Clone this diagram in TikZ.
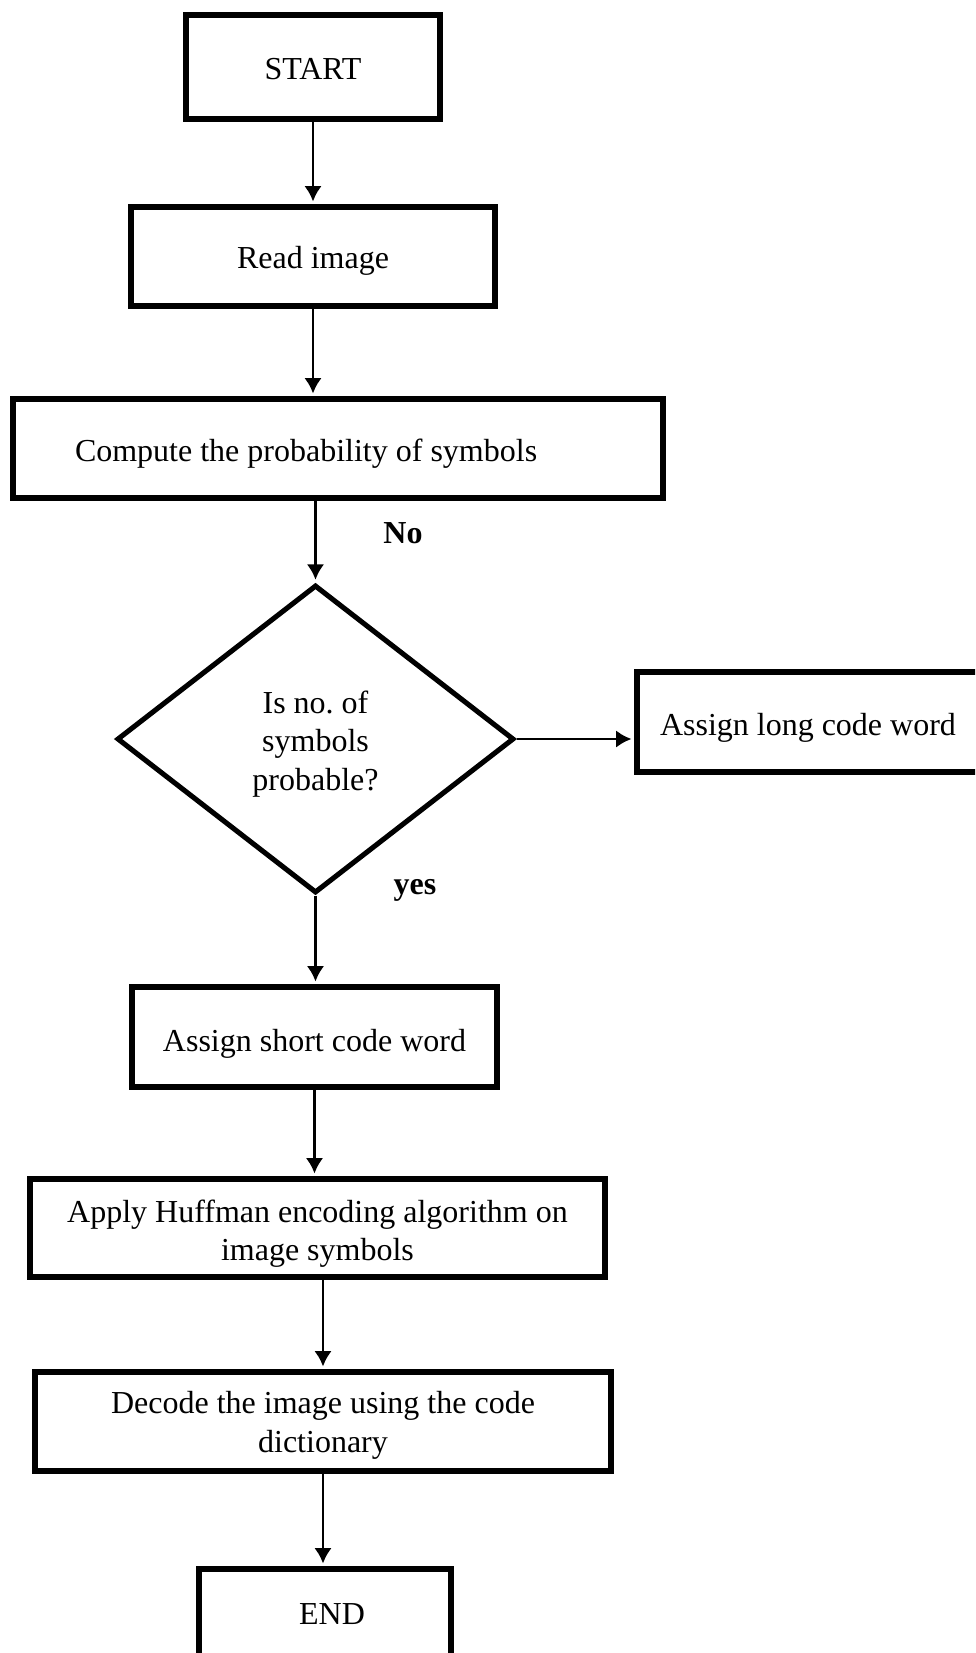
\documentclass[tikz,border=0pt]{standalone}
\usepackage{fontspec}
\setmainfont{Liberation Serif}
\usetikzlibrary{arrows.meta,shapes.geometric}
\newlength\pxu
\setlength\pxu{0.75pt}
% box caption shifted vertically while keeping its nominal size
\newcommand\lowtext[2][-5]{\raisebox{#1\pxu}[\height][\depth]{\begin{tabular}{@{}c@{}}#2\end{tabular}}}
\begin{document}
\begin{tikzpicture}[x=0.75pt,y=-0.75pt,
  font=\fontsize{24pt}{28.9pt}\selectfont,
  box/.style={draw,line width=4.2pt,rectangle,inner sep=0pt,align=center},
  decision/.style={draw,line width=3.8pt,diamond,inner sep=0pt,align=center,
    minimum width=397\pxu,minimum height=308\pxu},
  flow/.style={line width=2.2pt,-{Latex[length=11.5pt,width=13pt]},shorten >=2pt},
  tag/.style={font=\fontsize{24pt}{28.9pt}\selectfont\bfseries}]
\clip (0,0) rectangle (975,1653);

% process boxes
\node[box,minimum width=254\pxu,minimum height=104\pxu] (start) at (313,67) {\lowtext[-4.5]{START}};
\node[box,minimum width=364\pxu,minimum height=99\pxu] (read) at (313,256.5) {\lowtext[-4.5]{Read image}};
\node[box,minimum width=650\pxu,minimum height=99\pxu] (prob) at (338,448.5)
  {\raisebox{-5.5\pxu}[\height][\depth]{\makebox[650\pxu][l]{\hspace{62\pxu}Compute the probability of symbols}}};
\node[decision] (test) at (315.5,739) {\lowtext[-5]{Is no.\ of\\symbols\\probable?}};
\node[box,minimum width=348\pxu,minimum height=100\pxu] (long) at (811,722) {\hspace{-6\pxu}\lowtext[-5.5]{Assign long code word}};
\node[box,minimum width=365\pxu,minimum height=100\pxu] (short) at (314.5,1037) {\lowtext[-6.5]{Assign short code word}};
\node[box,minimum width=575\pxu,minimum height=98\pxu] (huff) at (317.5,1228)
  {\lowtext[-6]{Apply Huffman encoding algorithm on\\image symbols}};
\node[box,minimum width=576\pxu,minimum height=99\pxu] (dec) at (323,1421.5)
  {\lowtext[-4]{Decode the image using the code\\dictionary}};
\node[box,minimum width=252\pxu,minimum height=102\pxu] (end) at (325,1620)
  {\hspace{14\pxu}\lowtext[3]{END}};

% branch labels
\node[tag] (nolab) at (403,533) {No};
\node[tag] (yeslab) at (415,890) {yes};

% connectors
\draw[flow] (start.south) -- (start.south |- read.north);
\draw[flow] (read.south) -- (read.south |- prob.north);
\draw[flow] (test.north |- prob.south) -- (test.north);
\draw[flow] (test.east) -- (long.west |- test.east);
\draw[flow] (test.south) -- (test.south |- short.north);
\draw[flow] (short.south) -- (short.south |- huff.north);
\draw[flow] (dec.north |- huff.south) -- (dec.north);
\draw[flow] (dec.south) -- (dec.south |- end.north);
\end{tikzpicture}
\end{document}
